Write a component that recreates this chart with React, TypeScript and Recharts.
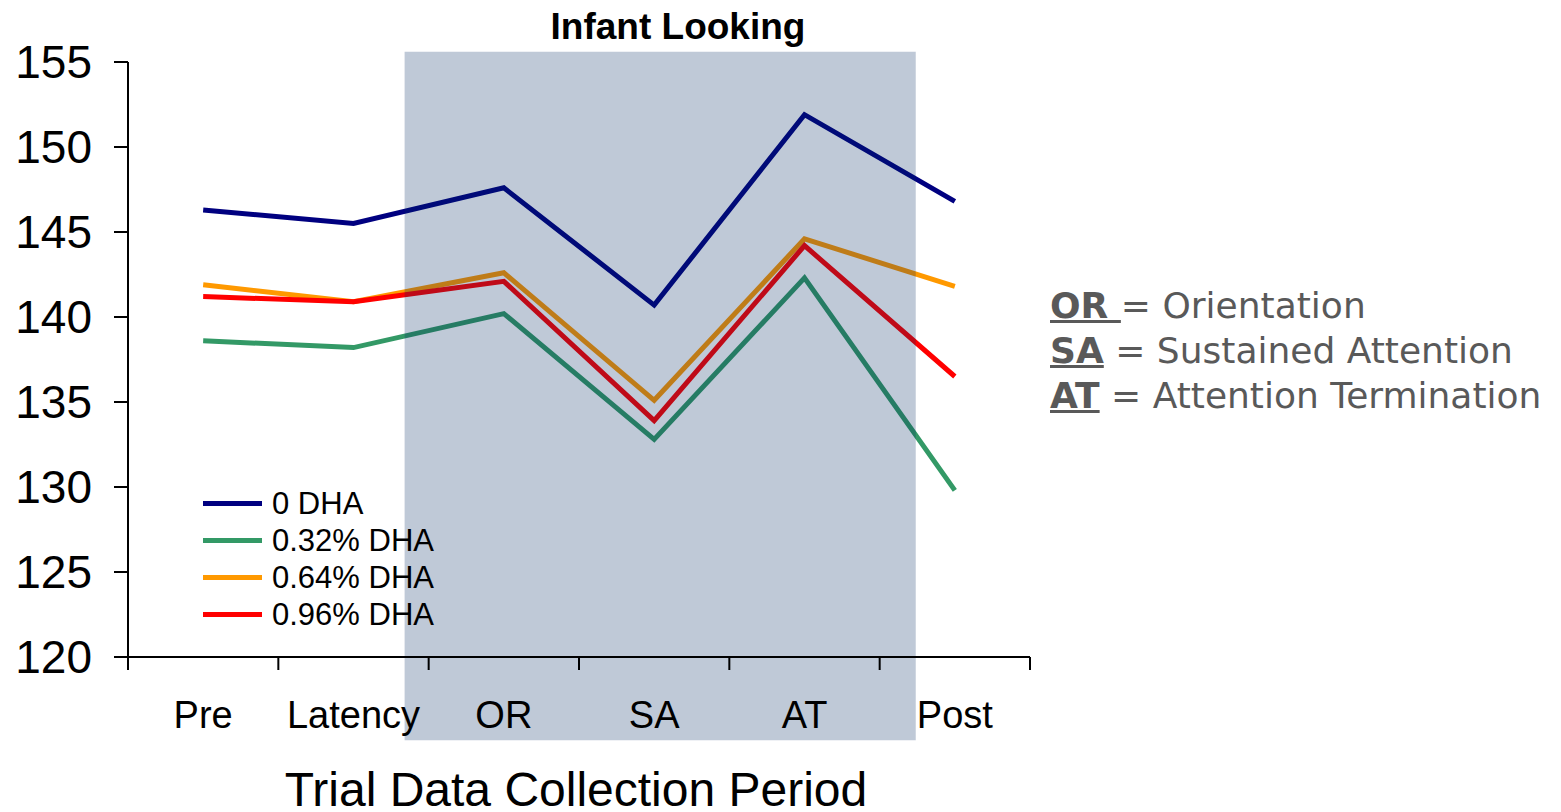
import React from "react"
import {
  LineChart,
  Line,
  XAxis,
  YAxis,
  ReferenceArea,
  Legend,
} from "recharts"

const categories = ["Pre", "Latency", "OR", "SA", "AT", "Post"]
const dha0 = [146.3, 145.5, 147.6, 140.7, 151.9, 146.8]
const dha032 = [138.6, 138.2, 140.2, 132.8, 142.3, 129.8]
const dha064 = [141.9, 140.9, 142.6, 135.1, 144.6, 141.8]
const dha096 = [141.2, 140.9, 142.1, 133.9, 144.2, 136.5]
const yTicks = [120, 125, 130, 135, 140, 145, 150, 155]

const series = [
  { key: "dha0", name: "0 DHA", color: "#000080" },
  { key: "dha032", name: "0.32% DHA", color: "#339966" },
  { key: "dha064", name: "0.64% DHA", color: "#FF9900" },
  { key: "dha096", name: "0.96% DHA", color: "#FF0000" },
]

const data = categories.map((name, i) => ({
  name,
  x: i + 0.5,
  dha0: dha0[i],
  dha032: dha032[i],
  dha064: dha064[i],
  dha096: dha096[i],
}))

// boundaries get a tick mark, half steps get the category label
const xTicks = Array.from({ length: 13 }, (_, i) => i / 2)

const FONT = "Arial, 'Liberation Sans', sans-serif"

const XTick = (props: any) => {
  const { x, y, payload } = props
  const v = payload.value
  if (Number.isInteger(v)) {
    return <line x1={x} y1={y} x2={x} y2={y + 13} stroke="#000" strokeWidth={2} />
  }
  const label = categories[Math.floor(v)]
  return (
    <text x={x} y={y + 71} textAnchor="middle" fontSize={38} fontFamily={FONT} fill="#000">
      {label}
    </text>
  )
}

const renderLegend = () => (
  <div style={{ fontFamily: FONT, fontSize: 31, color: "#000" }}>
    {series.map((s) => (
      <div key={s.key} style={{ display: "flex", alignItems: "center", height: 37 }}>
        <div style={{ width: 59, height: 5, background: s.color, marginRight: 10 }} />
        <span>{s.name}</span>
      </div>
    ))}
  </div>
)

const notes = [
  { abbr: "OR ", text: "Orientation" },
  { abbr: "SA", text: "Sustained Attention" },
  { abbr: "AT", text: "Attention Termination" },
]

const App: React.FC = () => {
  return (
    <div style={{ position: "absolute", left: 0, top: 0, width: 1561, height: 812 }}>
      <LineChart
        width={1561}
        height={812}
        data={data}
        margin={{ top: 62, right: 531, left: 28, bottom: 95 }}
      >
        <XAxis
          dataKey="x"
          type="number"
          domain={[0, 6]}
          ticks={xTicks}
          interval={0}
          tick={<XTick />}
          tickLine={false}
          tickSize={0}
          tickMargin={0}
          height={60}
          axisLine={{ stroke: "#000", strokeWidth: 2 }}
        />
        <YAxis
          domain={[120, 155]}
          ticks={yTicks}
          interval={0}
          width={100}
          tickSize={14}
          tickMargin={22}
          tick={{ fontSize: 46, fontFamily: FONT, fill: "#000" }}
          tickLine={{ stroke: "#000", strokeWidth: 2 }}
          axisLine={{ stroke: "#000", strokeWidth: 2 }}
        />
        {series.map((s) => (
          <Line
            key={s.key}
            dataKey={s.key}
            name={s.name}
            stroke={s.color}
            strokeWidth={5}
            dot={false}
            isAnimationActive={false}
          />
        ))}
        <ReferenceArea
          x1={1.84}
          x2={5.24}
          y1={115.1}
          y2={155.6}
          ifOverflow="visible"
          fill="rgb(0,40,96)"
          fillOpacity={0.25}
          stroke="none"
          zIndex={450}
        />
        <Legend
          layout="vertical"
          verticalAlign="middle"
          align="center"
          content={renderLegend}
          wrapperStyle={{ position: "absolute", left: 203, top: 485, width: 280 }}
        />
      </LineChart>

      <div
        style={{
          position: "absolute",
          left: 0,
          width: 1356,
          top: 6,
          textAlign: "center",
          fontFamily: FONT,
          fontWeight: "bold",
          fontSize: 37,
        }}
      >
        Infant Looking
      </div>

      <div
        style={{
          position: "absolute",
          left: 0,
          width: 1152,
          top: 770,
          lineHeight: "40px",
          textAlign: "center",
          fontFamily: FONT,
          fontSize: 48,
        }}
      >
        Trial Data Collection Period
      </div>

      <div
        style={{
          position: "absolute",
          left: 1050,
          top: 283,
          fontFamily: "'DejaVu Sans', sans-serif",
          fontSize: 36,
          color: "#595959",
          lineHeight: "45px",
          whiteSpace: "nowrap",
        }}
      >
        {notes.map((n) => (
          <div key={n.abbr}>
            <span style={{ fontWeight: "bold", textDecoration: "underline" }}>{n.abbr}</span>
            {" = " + n.text}
          </div>
        ))}
      </div>
    </div>
  )
}

export default App
